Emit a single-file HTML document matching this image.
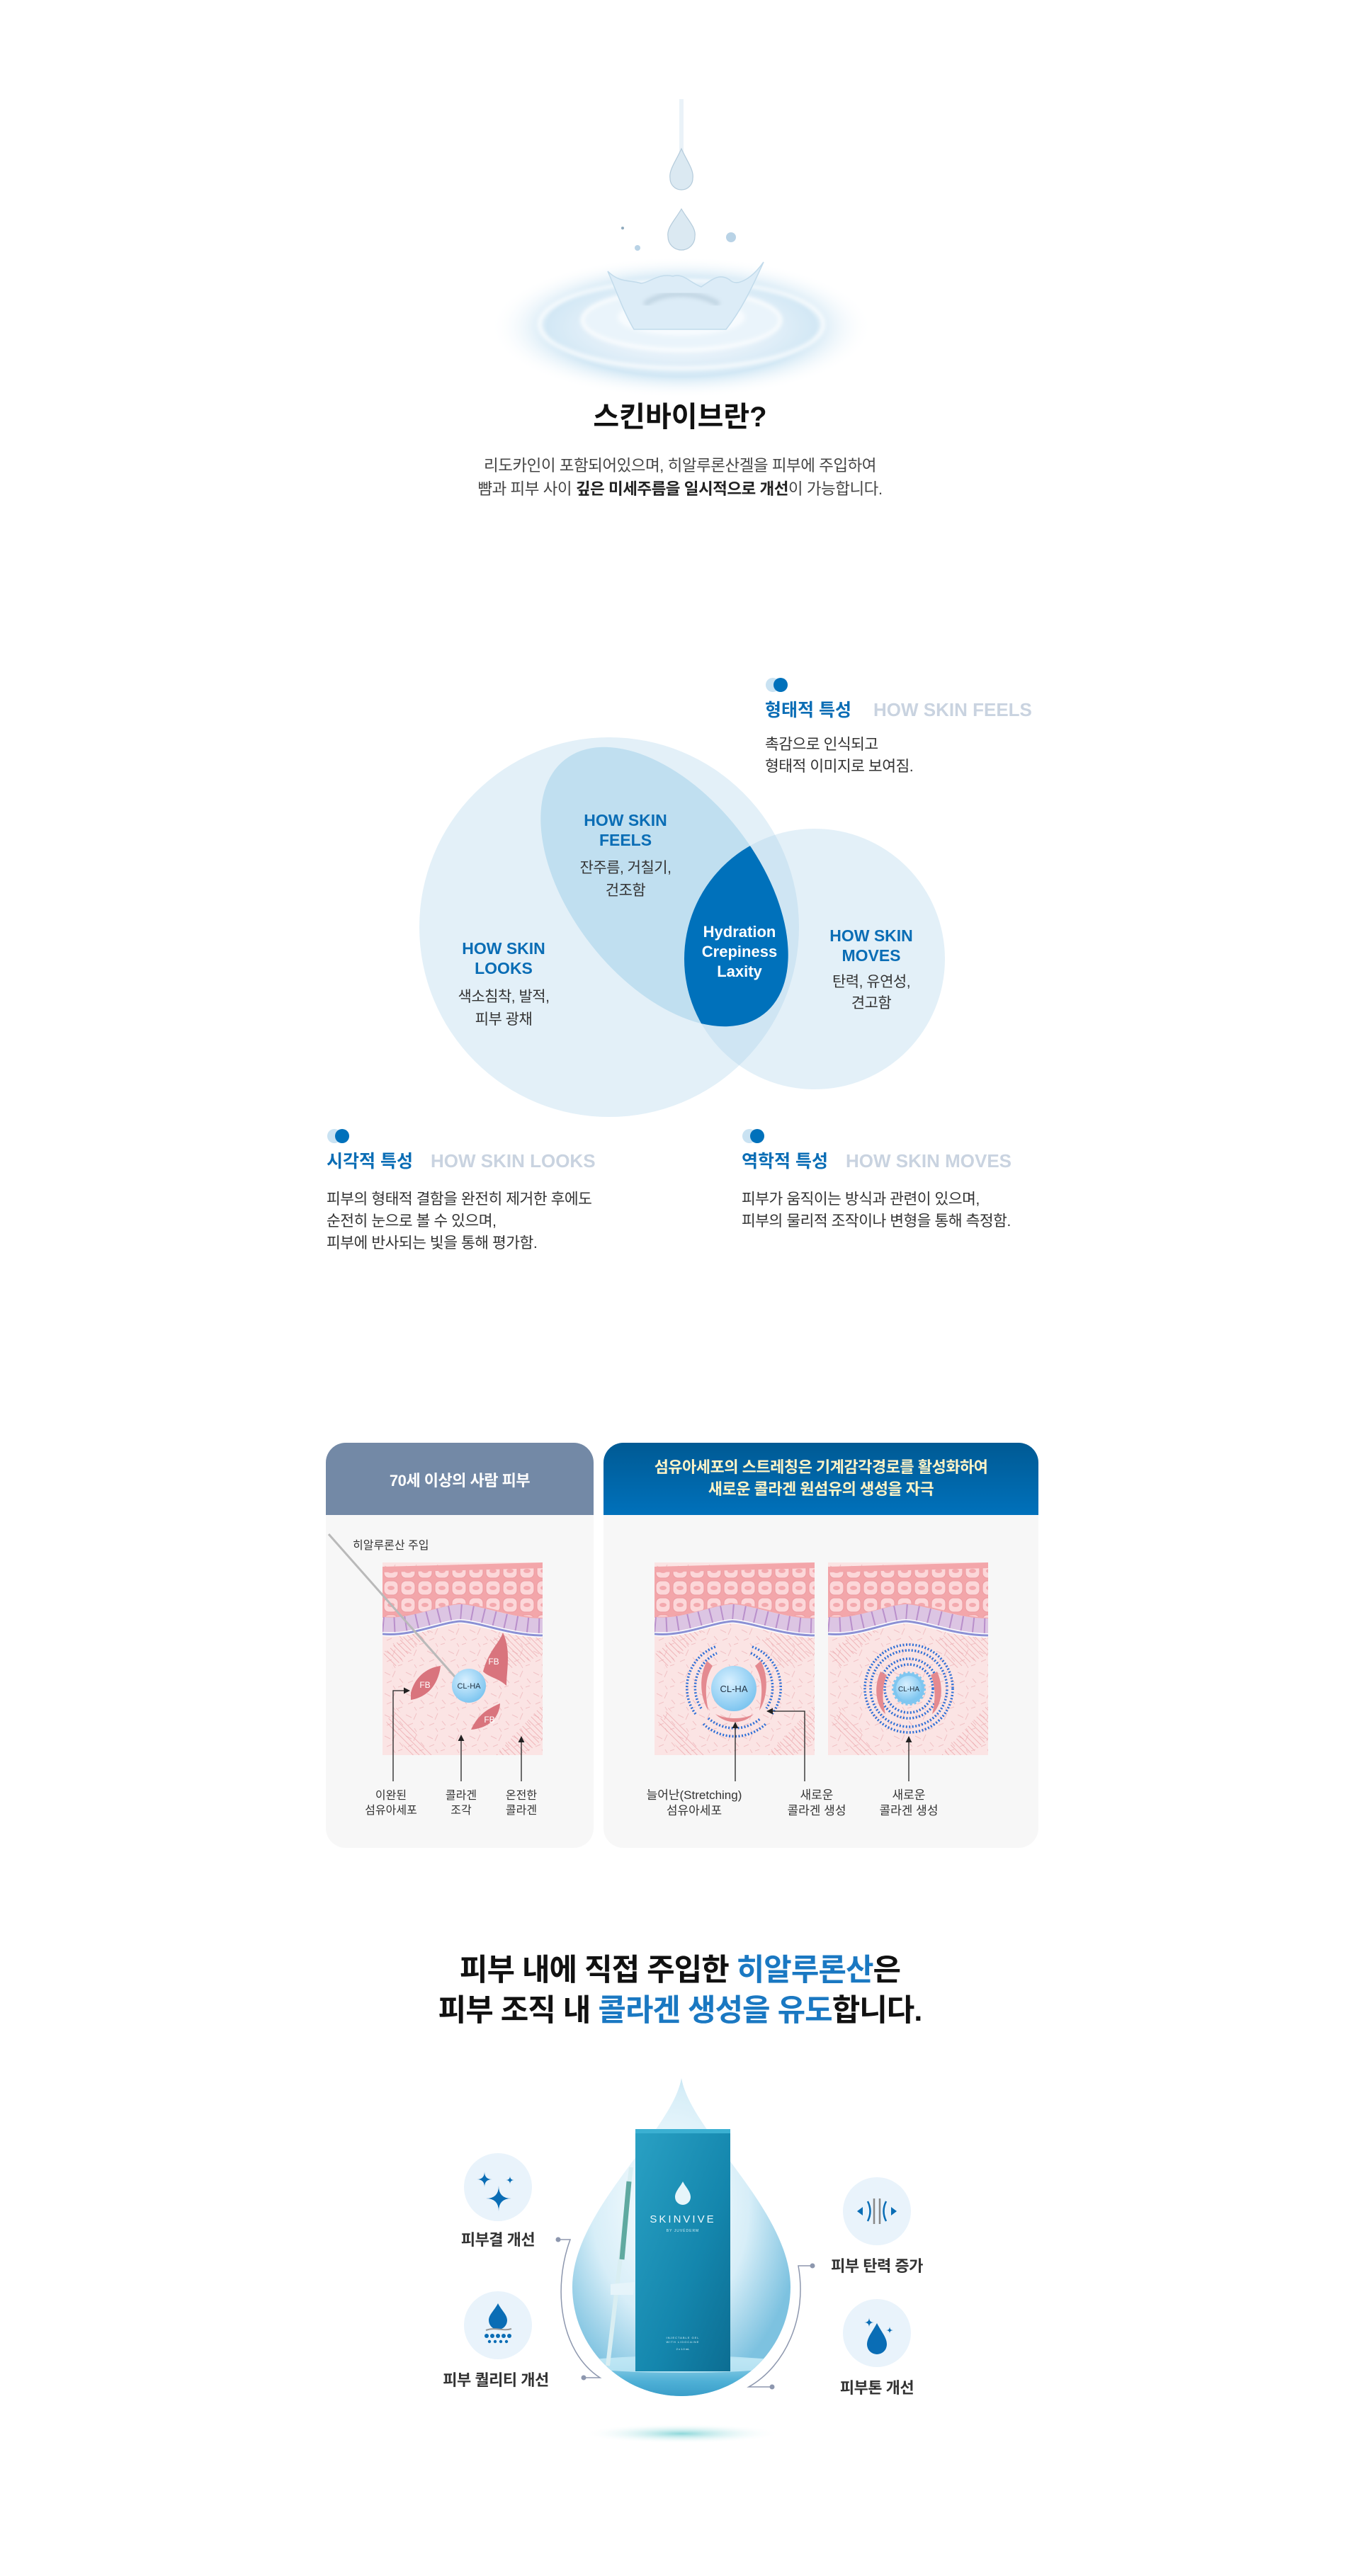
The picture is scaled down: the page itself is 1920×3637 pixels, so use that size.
<!DOCTYPE html>
<html><head><meta charset="utf-8"><style>
html,body{margin:0;padding:0;background:#fff;}
svg{display:block;}
text{font-family:"Liberation Sans","Noto Sans CJK KR",sans-serif;}
</style></head><body>
<svg width="1920" height="3637" viewBox="0 0 1920 3637" xmlns="http://www.w3.org/2000/svg">
<defs>
<radialGradient id="rip" cx="50%" cy="50%" r="50%">
<stop offset="0" stop-color="#ffffff"/><stop offset="0.45" stop-color="#e4f0f9"/><stop offset="0.7" stop-color="#d3e8f5"/><stop offset="1" stop-color="#ffffff" stop-opacity="0"/></radialGradient>
<radialGradient id="dropg" cx="45%" cy="40%" r="60%"><stop offset="0" stop-color="#ffffff"/><stop offset="0.6" stop-color="#d7eef8"/><stop offset="1" stop-color="#7dc2e0"/></radialGradient>
<linearGradient id="hdr2" x1="0" y1="0" x2="0" y2="1"><stop offset="0" stop-color="#005a94"/><stop offset="1" stop-color="#0071bb"/></linearGradient>
<linearGradient id="water" x1="0" y1="0" x2="0" y2="1"><stop offset="0" stop-color="#9fd7ec"/><stop offset="0.4" stop-color="#4fb0d6"/><stop offset="1" stop-color="#1d86b8"/></linearGradient>
<linearGradient id="box" x1="0" y1="0" x2="1" y2="1"><stop offset="0" stop-color="#2aa1c4"/><stop offset="0.6" stop-color="#1486ad"/><stop offset="1" stop-color="#0c6d92"/></linearGradient>
<radialGradient id="clha" cx="40%" cy="35%" r="65%"><stop offset="0" stop-color="#d8f0ff"/><stop offset="1" stop-color="#7fc6f0"/></radialGradient>
<radialGradient id="glow" cx="50%" cy="50%" r="50%"><stop offset="0" stop-color="#5cc6c9"/><stop offset="1" stop-color="#ffffff" stop-opacity="0"/></radialGradient>
<pattern id="cells" width="24" height="24" patternUnits="userSpaceOnUse"><rect x="2" y="2" width="20" height="20" rx="7" fill="#fcd7d9" stroke="#ec9aa0" stroke-width="1"/><ellipse cx="12" cy="12" rx="5" ry="3" fill="#f3a9ae"/></pattern>
<pattern id="hatch" width="6" height="6" patternUnits="userSpaceOnUse" patternTransform="rotate(-45)"><line x1="0" y1="0" x2="0" y2="6" stroke="#eba3a8" stroke-width="1.4"/></pattern>
<pattern id="fib" width="30" height="30" patternUnits="userSpaceOnUse"><path d="M3 5l8 4M18 3l-4 9M24 14l5 6M6 20l7-3M15 24l3 5M22 26l6-2" stroke="#f1c2c5" stroke-width="1"/></pattern>
<clipPath id="skinclip"><rect width="226" height="272"/></clipPath>
<g id="skin" clip-path="url(#skinclip)">
<rect width="226" height="272" fill="#fbe4e4"/>
<rect width="226" height="272" fill="url(#fib)"/>
<path d="M0 130 L60 80 L75 90 L15 150Z" fill="url(#hatch)"/>
<path d="M150 110 L226 70 L226 130 L180 150Z" fill="url(#hatch)"/>
<path d="M20 205 L70 272 L40 272 L5 225Z" fill="url(#hatch)"/>
<path d="M160 272 L226 200 L226 250 L200 272Z" fill="url(#hatch)"/>
<path d="M0 6 L226 0 L226 80 C180 78 140 60 110 60 C80 62 40 82 0 78Z" fill="#f3a6aa"/>
<path d="M0 14 L226 8 L226 78 C180 76 140 58 110 58 C80 60 40 80 0 76Z" fill="url(#cells)"/>
<path d="M0 88 C40 92 80 72 110 70 C140 72 180 90 226 90" stroke="#dcc5e3" stroke-width="22" fill="none"/>
<path d="M0 88 C40 92 80 72 110 70 C140 72 180 90 226 90" stroke="#b98fcb" stroke-width="22" fill="none" stroke-dasharray="2 14"/>
<path d="M0 101 C40 105 80 85 110 83 C140 85 180 103 226 103" stroke="#fff" stroke-width="6" fill="none"/>
<path d="M0 101 C40 105 80 85 110 83 C140 85 180 103 226 103" stroke="#8b90d4" stroke-width="3" fill="none"/>
</g>
<clipPath id="dropclip"><path d="M962 2934 C975 3010 1116 3120 1116 3229 A154 154 0 0 1 808 3229 C808 3120 949 3010 962 2934Z"/></clipPath>
<clipPath id="feelsclip"><ellipse cx="938" cy="1252" rx="228" ry="132" transform="rotate(52 938 1252)"/></clipPath>
<clipPath id="bigclip"><circle cx="860" cy="1309" r="268"/></clipPath>
<marker id="ah" viewBox="0 0 10 10" refX="9" refY="5" markerWidth="7" markerHeight="7" orient="auto"><path d="M0 0L10 5L0 10Z" fill="#222"/></marker>
<filter id="blur"><feGaussianBlur stdDeviation="3"/></filter>
</defs>

<!-- Splash -->
<ellipse cx="962" cy="462" rx="270" ry="100" fill="url(#rip)"/>
<g filter="url(#blur)">
<ellipse cx="962" cy="458" rx="200" ry="62" fill="none" stroke="#ffffff" stroke-width="5" opacity="0.9"/>
<ellipse cx="962" cy="452" rx="140" ry="42" fill="#eaf4fb" stroke="#ffffff" stroke-width="4"/>
<ellipse cx="962" cy="448" rx="90" ry="26" fill="#f7fbfe"/>
</g>
<path d="M858 383 C870 410 880 440 895 465 L1025 465 C1045 440 1060 410 1078 370 C1060 395 1040 405 1030 395 C1015 385 1005 395 990 405 C975 400 965 385 950 390 C930 385 915 400 905 400 C890 395 875 400 858 383Z" fill="#dcecf7" stroke="#c2dbeb" stroke-width="1.5"/>
<path d="M910 430 C935 410 985 410 1015 430" stroke="#9db6c7" stroke-width="8" fill="none" opacity="0.4" filter="url(#blur)"/>
<rect x="959" y="140" width="6" height="90" fill="#eaf2f8"/>
<path d="M962 210 C970 228 980 240 978 252 A16 16 0 0 1 946 252 C944 240 954 228 962 210Z" fill="#dbe9f2" stroke="#b4cbdb" stroke-width="1.2"/>
<path d="M962 295 C972 312 983 322 981 334 A19 19 0 0 1 943 334 C941 322 952 312 962 295Z" fill="#dbe9f2" stroke="#b4cbdb" stroke-width="1.2"/>
<circle cx="1032" cy="335" r="7" fill="#b9d3e6"/><circle cx="900" cy="350" r="4" fill="#b9d3e6"/><circle cx="879" cy="322" r="2" fill="#8faabd"/>

<!-- Title -->
<text x="960" y="602" text-anchor="middle" font-size="40" font-weight="700" fill="#111">스킨바이브란?</text>
<text x="960" y="665" text-anchor="middle" font-size="22.5" fill="#444" letter-spacing="-0.5">리도카인이 포함되어있으며, 히알루론산겔을 피부에 주입하여</text>
<text x="960" y="698" text-anchor="middle" font-size="22.5" fill="#444" letter-spacing="-0.5">뺨과 피부 사이 <tspan font-weight="700" fill="#222">깊은 미세주름을 일시적으로 개선</tspan>이 가능합니다.</text>

<!-- Venn -->
<circle cx="860" cy="1309" r="268" fill="#e3f0f8"/>
<circle cx="1150" cy="1354" r="184" fill="#e3f0f8"/>
<circle cx="1150" cy="1354" r="184" fill="#cfe5f3" clip-path="url(#bigclip)"/>
<ellipse cx="938" cy="1252" rx="228" ry="132" transform="rotate(52 938 1252)" fill="#c0dff0"/>
<circle cx="1150" cy="1354" r="184" fill="#0071bb" clip-path="url(#feelsclip)"/>

<g font-weight="700" fill="#0a6db5" font-size="23" text-anchor="middle">
<text x="883" y="1166">HOW SKIN</text><text x="883" y="1194">FEELS</text>
<text x="711" y="1347">HOW SKIN</text><text x="711" y="1375">LOOKS</text>
<text x="1230" y="1329">HOW SKIN</text><text x="1230" y="1357">MOVES</text>
</g>
<g font-weight="700" fill="#fff" font-size="22" text-anchor="middle">
<text x="1044" y="1323">Hydration</text><text x="1044" y="1351">Crepiness</text><text x="1044" y="1379">Laxity</text>
</g>
<g fill="#333" font-size="21" text-anchor="middle" letter-spacing="-0.5">
<text x="883" y="1232">잔주름, 거칠기,</text><text x="883" y="1264">건조함</text>
<text x="711" y="1414">색소침착, 발적,</text><text x="711" y="1446">피부 광채</text>
<text x="1230" y="1393">탄력, 유연성,</text><text x="1230" y="1423">견고함</text>
</g>

<!-- captions -->
<g>
<circle cx="1091" cy="967" r="10" fill="#c9e2f2"/><circle cx="1102" cy="967" r="10" fill="#0071bb"/>
<text x="1080" y="1011" font-size="25" font-weight="700" fill="#0a6db5">형태적 특성</text>
<text x="1233" y="1011" font-size="26" font-weight="700" fill="#c9d3e0">HOW SKIN FEELS</text>
<text x="1080" y="1058" font-size="21.5" fill="#333" letter-spacing="-0.5">촉감으로 인식되고</text>
<text x="1080" y="1089" font-size="21.5" fill="#333" letter-spacing="-0.5">형태적 이미지로 보여짐.</text>

<circle cx="472" cy="1604" r="10" fill="#c9e2f2"/><circle cx="483" cy="1604" r="10" fill="#0071bb"/>
<text x="461" y="1648" font-size="25" font-weight="700" fill="#0a6db5">시각적 특성</text>
<text x="608" y="1648" font-size="26" font-weight="700" fill="#c9d3e0">HOW SKIN LOOKS</text>
<text x="461" y="1700" font-size="21.5" fill="#333" letter-spacing="-0.5">피부의 형태적 결함을 완전히 제거한 후에도</text>
<text x="461" y="1731" font-size="21.5" fill="#333" letter-spacing="-0.5">순전히 눈으로 볼 수 있으며,</text>
<text x="461" y="1762" font-size="21.5" fill="#333" letter-spacing="-0.5">피부에 반사되는 빛을 통해 평가함.</text>

<circle cx="1058" cy="1604" r="10" fill="#c9e2f2"/><circle cx="1069" cy="1604" r="10" fill="#0071bb"/>
<text x="1047" y="1648" font-size="25" font-weight="700" fill="#0a6db5">역학적 특성</text>
<text x="1194" y="1648" font-size="26" font-weight="700" fill="#c9d3e0">HOW SKIN MOVES</text>
<text x="1047" y="1700" font-size="21.5" fill="#333" letter-spacing="-0.5">피부가 움직이는 방식과 관련이 있으며,</text>
<text x="1047" y="1731" font-size="21.5" fill="#333" letter-spacing="-0.5">피부의 물리적 조작이나 변형을 통해 측정함.</text>
</g>

<!-- Panels -->
<rect x="460" y="2037" width="378" height="572" rx="28" fill="#f7f7f7"/>
<path d="M460 2139 V2065 A28 28 0 0 1 488 2037 H810 A28 28 0 0 1 838 2065 V2139Z" fill="#7389a6"/>
<text x="649" y="2098" text-anchor="middle" font-size="22" font-weight="700" fill="#fff" letter-spacing="-0.5">70세 이상의 사람 피부</text>
<rect x="852" y="2037" width="614" height="572" rx="28" fill="#f7f7f7"/>
<path d="M852 2139 V2065 A28 28 0 0 1 880 2037 H1438 A28 28 0 0 1 1466 2065 V2139Z" fill="url(#hdr2)"/>
<text x="1159" y="2079" text-anchor="middle" font-size="22" font-weight="700" fill="#fff4c6" letter-spacing="-0.5">섬유아세포의 스트레칭은 기계감각경로를 활성화하여</text>
<text x="1159" y="2110" text-anchor="middle" font-size="22" font-weight="700" fill="#fff4c6" letter-spacing="-0.5">새로운 콜라겐 원섬유의 생성을 자극</text>

<use href="#skin" x="540" y="2206"/>
<use href="#skin" x="924" y="2206"/>
<use href="#skin" x="1169" y="2206"/>

<!-- left block details -->
<line x1="464" y1="2166" x2="648" y2="2374" stroke="#b9b9b9" stroke-width="3"/>
<text x="498" y="2187" font-size="16" fill="#333">히알루론산 주입</text>
<circle cx="662" cy="2380" r="24" fill="url(#clha)"/>
<text x="662" y="2384" text-anchor="middle" font-size="11" fill="#234">CL-HA</text>
<path d="M682 2360 C690 2330 705 2320 710 2305 C722 2330 715 2360 715 2380 C705 2370 690 2368 682 2360Z" fill="#d9747d"/>
<text x="697" y="2350" font-size="12" fill="#fff" text-anchor="middle">FB</text>
<path d="M580 2390 C585 2370 600 2355 622 2352 C620 2370 610 2395 580 2400Z" fill="#d9747d"/>
<text x="600" y="2383" font-size="12" fill="#fff" text-anchor="middle">FB</text>
<path d="M665 2442 C675 2420 690 2412 706 2405 C705 2425 690 2440 665 2442Z" fill="#d9747d"/>
<text x="691" y="2432" font-size="12" fill="#fff" text-anchor="middle">FB</text>
<g stroke="#222" stroke-width="1.3" fill="none">
<path d="M555 2515 V2387 H578" marker-end="url(#ah)"/>
<path d="M651 2515 V2450" marker-end="url(#ah)"/>
<path d="M736 2515 V2452" marker-end="url(#ah)"/>
</g>
<g font-size="16" fill="#333" text-anchor="middle">
<text x="552" y="2540">이완된</text><text x="552" y="2561">섬유아세포</text>
<text x="651" y="2540">콜라겐</text><text x="651" y="2561">조각</text>
<text x="736" y="2540">온전한</text><text x="736" y="2561">콜라겐</text>
</g>

<!-- right block 1 -->
<g fill="none" stroke="#2f6fd6" stroke-width="3.5" stroke-dasharray="2 2.5">
<path d="M982 2420 A62 62 0 0 1 1010 2325"/><path d="M1062 2325 A62 62 0 0 1 1090 2420"/>
<path d="M990 2412 A54 54 0 0 1 1012 2334"/><path d="M1060 2334 A54 54 0 0 1 1082 2412"/>
<path d="M1000 2426 A56 56 0 0 0 1074 2426"/><path d="M993 2434 A64 64 0 0 0 1081 2434"/>
</g>
<path d="M998 2345 C985 2370 990 2400 1000 2415 C995 2390 995 2370 1006 2352Z" fill="#e48a90"/>
<path d="M1074 2345 C1087 2370 1082 2400 1072 2415 C1077 2390 1077 2370 1066 2352Z" fill="#e48a90"/>
<path d="M1010 2420 C1025 2435 1050 2435 1064 2420 C1050 2428 1025 2428 1010 2420Z" fill="#e48a90"/>
<circle cx="1036" cy="2384" r="32" fill="url(#clha)"/>
<text x="1036" y="2389" text-anchor="middle" font-size="13" fill="#234">CL-HA</text>
<!-- right block 2 -->
<g fill="none" stroke="#2f6fd6" stroke-width="3.5" stroke-dasharray="2 2.5">
<circle cx="1283" cy="2384" r="62"/><circle cx="1283" cy="2384" r="54" stroke-dashoffset="3"/>
<circle cx="1283" cy="2384" r="42"/><circle cx="1283" cy="2384" r="34"/>
</g>
<path d="M1243 2360 C1232 2385 1238 2410 1250 2420 C1245 2400 1245 2380 1252 2365Z" fill="#e48a90"/>
<path d="M1323 2360 C1334 2385 1328 2410 1316 2420 C1321 2400 1321 2380 1314 2365Z" fill="#e48a90"/>
<circle cx="1283" cy="2384" r="22" fill="#7fc6f0" stroke="#7fc6f0" stroke-width="4" stroke-dasharray="3 3"/>
<circle cx="1283" cy="2384" r="18" fill="url(#clha)"/>
<text x="1283" y="2388" text-anchor="middle" font-size="10" fill="#234">CL-HA</text>
<g stroke="#222" stroke-width="1.3" fill="none">
<path d="M1038 2515 V2432" marker-end="url(#ah)"/>
<path d="M1136 2515 V2416 H1083" marker-end="url(#ah)"/>
<path d="M1283 2515 V2452" marker-end="url(#ah)"/>
</g>
<g font-size="17" fill="#333" text-anchor="middle">
<text x="980" y="2540">늘어난(Stretching)</text><text x="980" y="2562">섬유아세포</text>
<text x="1153" y="2540">새로운</text><text x="1153" y="2562">콜라겐 생성</text>
<text x="1283" y="2540">새로운</text><text x="1283" y="2562">콜라겐 생성</text>
</g>

<!-- Section 4 headline -->
<text x="960" y="2796" text-anchor="middle" font-size="43" font-weight="700" fill="#111" letter-spacing="-1">피부 내에 직접 주입한 <tspan fill="#1a78c2">히알루론산</tspan>은</text>
<text x="960" y="2853" text-anchor="middle" font-size="43" font-weight="700" fill="#111" letter-spacing="-1">피부 조직 내 <tspan fill="#1a78c2">콜라겐 생성을 유도</tspan>합니다.</text>

<!-- drop & product -->
<ellipse cx="962" cy="3436" rx="140" ry="14" fill="url(#glow)" opacity="0.7"/>
<path d="M962 2934 C975 3010 1116 3120 1116 3229 A154 154 0 0 1 808 3229 C808 3120 949 3010 962 2934Z" fill="url(#dropg)"/>
<g clip-path="url(#dropclip)">
<rect x="800" y="3330" width="330" height="80" fill="url(#water)"/>
<ellipse cx="962" cy="3338" rx="150" ry="12" fill="#c6eaf6" opacity="0.8"/>
</g>
<rect x="897" y="3006" width="134" height="342" fill="url(#box)"/>
<rect x="897" y="3006" width="134" height="6" fill="#3bb0d2"/>
<path d="M964 3080 C968 3088 975 3094 975 3102 A11 11 0 0 1 953 3102 C953 3094 960 3088 964 3080Z" fill="#e6f5fa"/>
<text x="964" y="3138" text-anchor="middle" font-size="15" fill="#eef9fd" letter-spacing="3">SKINVIVE</text>
<text x="964" y="3151" text-anchor="middle" font-size="5" fill="#cfeef7" letter-spacing="1">BY JUVÉDERM</text>
<text x="964" y="3302" text-anchor="middle" font-size="4" fill="#e0f4fa" letter-spacing="1">INJECTABLE GEL</text>
<text x="964" y="3308" text-anchor="middle" font-size="4" fill="#e0f4fa" letter-spacing="1">WITH LIDOCAINE</text>
<text x="964" y="3318" text-anchor="middle" font-size="4" fill="#e0f4fa">2 x 1.0 mL</text>
<line x1="891" y1="3060" x2="858" y2="3340" stroke="#d9eef2" stroke-width="6"/>
<line x1="888" y1="3080" x2="878" y2="3190" stroke="#5fa9a0" stroke-width="7"/>
<path d="M862 3225 L896 3222 L894 3240 L862 3240Z" fill="#e6f4fa"/>

<!-- icons -->
<g fill="#e9f3fb"><circle cx="703" cy="3088" r="48"/><circle cx="703" cy="3283" r="48"/><circle cx="1238" cy="3122" r="48"/><circle cx="1238" cy="3294" r="48"/></g>
<g fill="#0a6db5">
<path d="M704 3086 Q704 3104 722 3104 Q704 3104 704 3122 Q704 3104 686 3104 Q704 3104 704 3086Z"/>
<path d="M684 3066 Q684 3077 695 3077 Q684 3077 684 3088 Q684 3077 673 3077 Q684 3077 684 3066Z"/>
<path d="M720 3072 Q720 3078 726 3078 Q720 3078 720 3084 Q720 3078 714 3078 Q720 3078 720 3072Z"/>
<path d="M703 3252 C708 3262 716 3268 716 3276 A13 13 0 0 1 690 3276 C690 3268 698 3262 703 3252Z"/>
<circle cx="687" cy="3298" r="3"/><circle cx="695" cy="3298" r="3"/><circle cx="703" cy="3298" r="3"/><circle cx="711" cy="3298" r="3"/><circle cx="719" cy="3298" r="3"/>
<circle cx="691" cy="3306" r="2.2"/><circle cx="699" cy="3306" r="2.2"/><circle cx="707" cy="3306" r="2.2"/><circle cx="715" cy="3306" r="2.2"/>
<path d="M1238 3280 C1244 3292 1252 3300 1252 3310 A14 14 0 0 1 1224 3310 C1224 3300 1232 3292 1238 3280Z"/>
<path d="M1227 3272 Q1227 3279 1234 3279 Q1227 3279 1227 3286 Q1227 3279 1220 3279 Q1227 3279 1227 3272Z"/>
<path d="M1256 3285 Q1256 3290 1261 3290 Q1256 3290 1256 3295 Q1256 3290 1251 3290 Q1256 3290 1256 3285Z"/>
<path d="M1210 3122 L1218 3116 V3128Z"/><path d="M1266 3122 L1258 3116 V3128Z"/>
</g>
<path d="M686 3290 C700 3285 710 3292 722 3288" stroke="#999" stroke-width="2" fill="none"/>
<g fill="none" stroke-width="2.5">
<path d="M1225 3108 Q1232 3122 1225 3136" stroke="#0a6db5"/><path d="M1251 3108 Q1244 3122 1251 3136" stroke="#0a6db5"/>
<line x1="1234" y1="3104" x2="1234" y2="3140" stroke="#888"/><line x1="1242" y1="3104" x2="1242" y2="3140" stroke="#888"/>
</g>
<g font-size="22" font-weight="700" fill="#333" text-anchor="middle" letter-spacing="-0.5">
<text x="703" y="3170">피부결 개선</text>
<text x="700" y="3368">피부 퀄리티 개선</text>
<text x="1238" y="3207">피부  탄력 증가</text>
<text x="1238" y="3379">피부톤 개선</text>
</g>
<g fill="none" stroke="#8d97ae" stroke-width="1.5">
<path d="M788 3162 H805 C780 3230 790 3320 847 3357 H824"/>
<path d="M1147 3199 H1127 C1140 3270 1110 3340 1057 3370 H1090"/>
</g>
<g fill="#8d97ae"><circle cx="788" cy="3162" r="3.5"/><circle cx="824" cy="3357" r="3.5"/><circle cx="1147" cy="3199" r="3.5"/><circle cx="1090" cy="3370" r="3.5"/></g>
</svg>
</body></html>
